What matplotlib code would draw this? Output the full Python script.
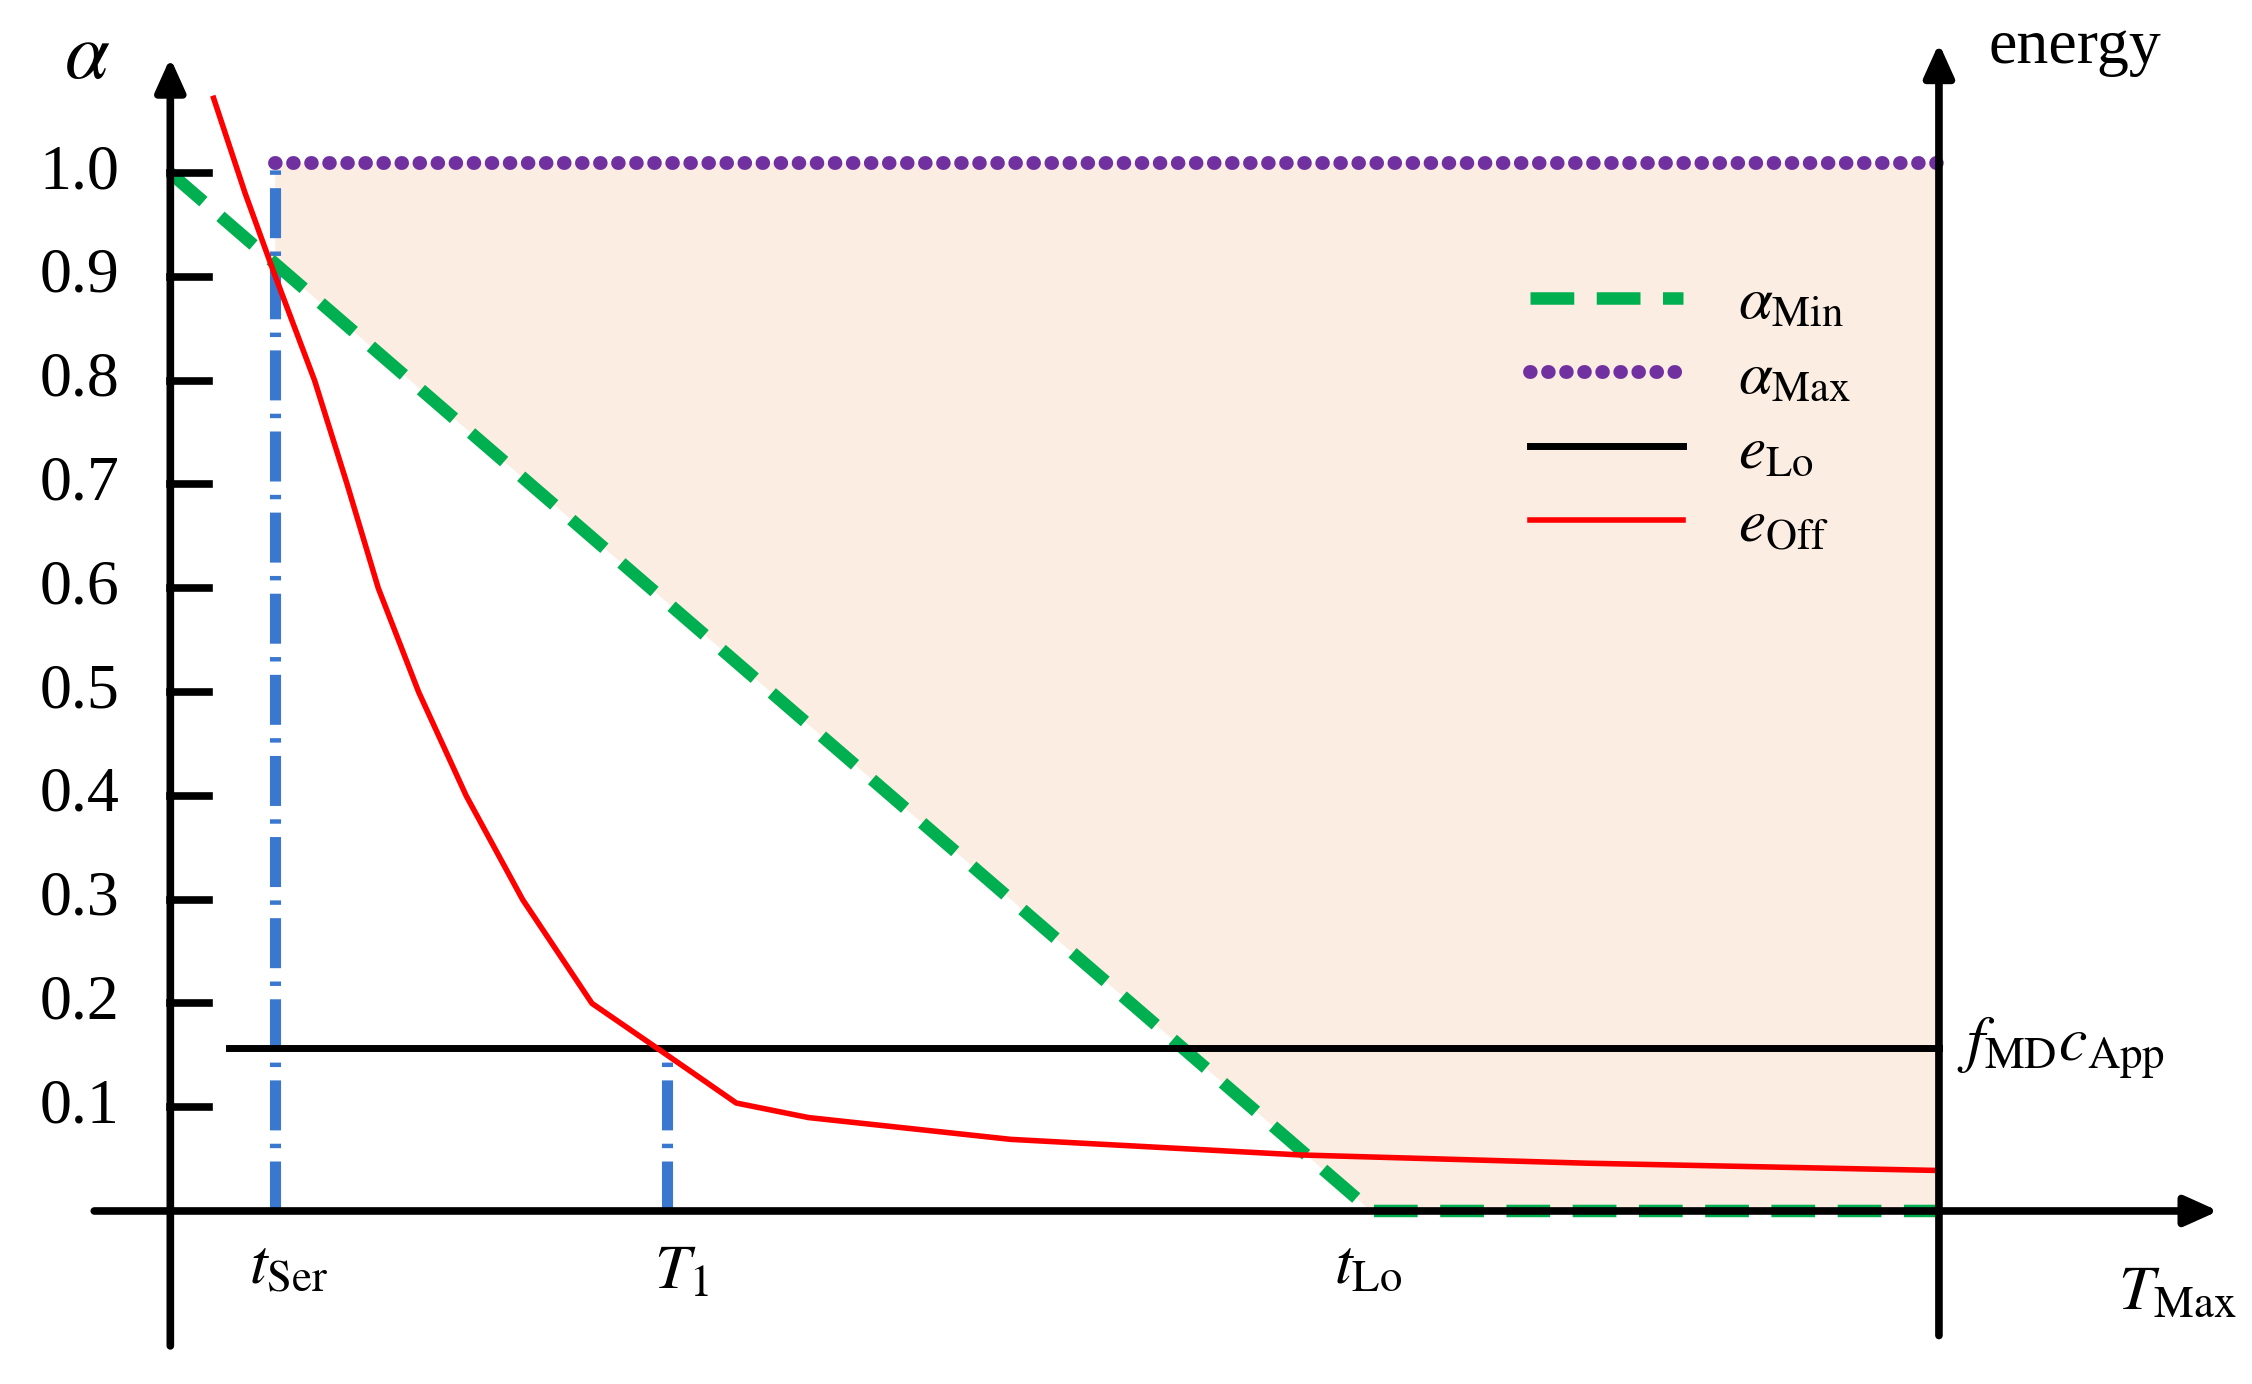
import matplotlib
matplotlib.use("Agg")
import matplotlib.pyplot as plt
import numpy as np

plt.rcParams['font.family'] = ['Liberation Serif', 'DejaVu Serif']
plt.rcParams['mathtext.fontset'] = 'stix'

# data (x normalised: 0 = left axis, 1 = right axis / T_Max)
t_ser = 0.059
t1 = 0.281
t_lo = 0.679
alpha_max = 1.01
e_lo = 0.157
alpha_min_x = [0.0, t_lo, 1.0]
alpha_min_y = [1.0, 0.0, 0.0]
e_off_x = [0.0245, 0.0424, 0.0588, 0.0816, 0.1000, 0.1176, 0.1404, 0.1673, 0.1992, 0.2384,
           0.2751, 0.2955, 0.3200, 0.3608, 0.4751, 0.6384, 0.8016, 1.0]
e_off_y = [1.072, 0.980, 0.903, 0.800, 0.700, 0.600, 0.500, 0.400, 0.300, 0.200,
           0.157, 0.133, 0.104, 0.090, 0.069, 0.054, 0.046, 0.039]
yticks = [0.1, 0.2, 0.3, 0.4, 0.5, 0.6, 0.7, 0.8, 0.9, 1.0]

fig = plt.figure(figsize=(22.52, 13.84), dpi=100)
ax = fig.add_axes([0, 0, 1, 1])
ax.set_xlim(-0.0963, 1.177)
ax.set_ylim(-0.1667, 1.1667)
ax.axis('off')

xs = np.linspace(t_ser, 1.0, 300)
lower = np.interp(xs, alpha_min_x, alpha_min_y)
ax.fill_between(xs, lower, alpha_max, color='#fcede2', lw=0, zorder=0)

ak = dict(arrowstyle='-|>,head_length=2.0,head_width=0.9', lw=5.5, color='black', shrinkA=0, shrinkB=0)
ax.annotate('', xy=(0, 1.111), xytext=(0, -0.13), arrowprops=ak, zorder=5)
ax.annotate('', xy=(1.0, 1.125), xytext=(1.0, -0.12), arrowprops=ak, zorder=5)
ax.annotate('', xy=(1.158, 0), xytext=(-0.043, 0), arrowprops=ak, zorder=5)
for v in yticks:
    ax.plot([0, 0.022], [v, v], color='black', lw=5.5, zorder=5)
    ax.text(-0.029, v, f"{v:.1f}", ha='right', va='center', fontsize=46)

bl = dict(color='#3a78cf', lw=8, ls=(0, (4.5, 1.2, 0.4, 1.2)), zorder=3)
ax.plot([t_ser, t_ser], [0, alpha_max], **bl)
ax.plot([t1, t1], [0, e_lo], **bl)
l1, = ax.plot(alpha_min_x, alpha_min_y, color='#00b050', lw=9, ls=(0, (3.5, 1.8)), zorder=3,
              label=r'$\alpha_{\mathrm{Min}}$')
l2, = ax.plot([t_ser, 1.0], [alpha_max, alpha_max], color='#7030a0', lw=10, ls=(0, (0.05, 1.25)),
              dash_capstyle='round', solid_capstyle='round', zorder=3, label=r'$\alpha_{\mathrm{Max}}$')
l3, = ax.plot([0.033, 1.0], [e_lo, e_lo], color='black', lw=5, zorder=4, label=r'$e_{\mathrm{Lo}}$')
l4, = ax.plot(e_off_x, e_off_y, color='#ff0000', lw=4, zorder=4, label=r'$e_{\mathrm{Off}}$')

ax.legend(handles=[l1, l2, l3, l4], loc='upper left', bbox_to_anchor=(0.655, 0.84),
          frameon=False, fontsize=44, handlelength=2.5, labelspacing=0.3, handletextpad=0.9)

ax.text(-0.06, 1.11, r'$\alpha$', fontsize=58, ha='left', va='center')
ax.text(1.028, 1.12, 'energy', fontsize=46, ha='left', va='center')
ax.text(t_ser + 0.008, -0.055, r'$t_{\mathrm{Ser}}$', fontsize=46, ha='center', va='center')
ax.text(t1 + 0.008, -0.06, r'$T_1$', fontsize=46, ha='center', va='center')
ax.text(t_lo - 0.002, -0.055, r'$t_{\mathrm{Lo}}$', fontsize=46, ha='center', va='center')
ax.text(1.135, -0.08, r'$T_{\mathrm{Max}}$', fontsize=46, ha='center', va='center')
ax.text(1.01, e_lo, r'$f_{\mathrm{MD}}c_{\mathrm{App}}$', fontsize=46, ha='left', va='center')

fig.savefig('out.png', dpi=100)
